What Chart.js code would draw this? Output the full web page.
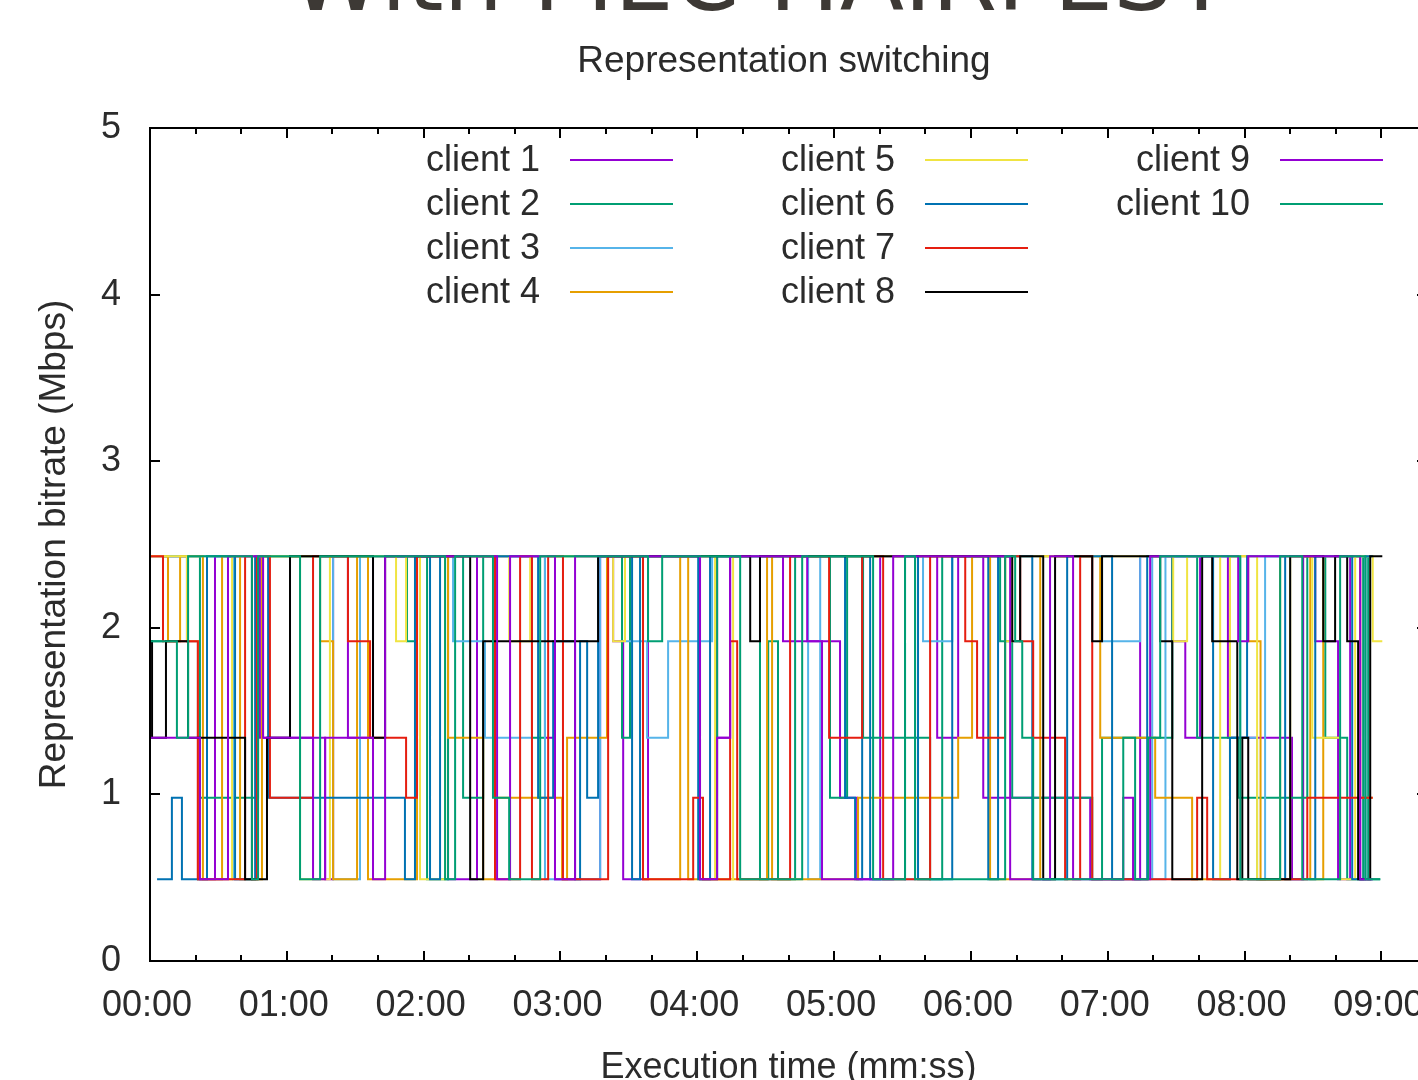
<!DOCTYPE html>
<html lang="en">
  <head>
    <meta charset="utf-8" />
    <title>Representation switching</title>
    <style>
      html, body { margin: 0; padding: 0; background: #fff; overflow: hidden; }
      #box { width: 1480px; height: 1110px; }
    </style>
  </head>
  <body>
    <div id="box"><canvas id="myChart" width="1480" height="1110"></canvas></div>
    <script src="https://cdn.jsdelivr.net/npm/chart.js"></script>
    <script>
      // bitrate steps per client: change time (s) and rate (Mbps) from that time on
      const c1Time = [0, 16.2, 21, 28.5, 48.2, 76.8, 80.3, 86.8, 97.8, 130.7, 143.4, 173.2, 177.6, 197.4, 203.1, 207.5, 218.4, 248.7, 254.4, 277.6, 302.6, 310.1, 320.2, 345.2, 354.4, 365.4, 412.3, 434.2, 448.3, 454, 460.5, 472.7, 500.8, 505.7, 511, 521, 526.3, 530.7, 536.2];
      const c1Rate = [2.43, 1.92, 0.49, 2.43, 1.34, 0.49, 2.43, 1.34, 2.43, 0.49, 2.43, 1.34, 0.49, 2.43, 1.92, 0.49, 2.43, 1.34, 2.43, 1.92, 0.98, 0.49, 2.43, 1.34, 2.43, 0.98, 0.49, 2.43, 1.92, 1.34, 2.43, 1.34, 0.49, 2.43, 1.92, 0.49, 2.43, 0.49, 0.49];

      const c2Time = [0, 5.7, 21.9, 47.4, 112.7, 117.1, 121.5, 130.7, 137.3, 146.1, 167.5, 173.2, 207, 210.5, 241.2, 248.7, 267.5, 271.1, 275.4, 282.9, 298.2, 305.7, 312.7, 342.1, 347.4, 372.8, 378.1, 413.2, 417.5, 448.3, 459.2, 477.2, 507.5, 515.4, 525, 532, 534.2, 539.5];
      const c2Rate = [1.92, 2.43, 0.98, 2.43, 1.92, 2.43, 0.49, 2.43, 0.98, 2.43, 1.34, 2.43, 1.34, 2.43, 0.49, 2.43, 0.49, 1.92, 0.49, 2.43, 0.98, 2.43, 1.34, 0.49, 2.43, 1.92, 0.98, 0.49, 1.34, 2.43, 1.34, 0.98, 2.43, 1.34, 0.49, 2.43, 0.49, 0.49];

      const c3Time = [0, 36.4, 44.7, 80.3, 92.1, 132.9, 146.9, 167.5, 173.2, 197.4, 208.3, 218, 227.2, 246.5, 288.6, 293.9, 331.1, 335.5, 339, 351.8, 417.5, 434.2, 439.5, 445.3, 478.1, 485.5, 489, 536.2];
      const c3Rate = [2.43, 0.49, 2.43, 0.49, 2.43, 1.92, 1.34, 2.43, 0.49, 2.43, 1.92, 1.34, 1.92, 2.43, 0.49, 2.43, 0.49, 2.43, 1.92, 2.43, 1.92, 2.43, 0.49, 2.43, 1.34, 0.49, 2.43, 2.43];

      const c4Time = [0, 7.9, 13.2, 23.2, 31.6, 39.5, 49.1, 74.6, 80.3, 90.8, 95.6, 117.1, 130.7, 146.1, 151.3, 180.7, 182.9, 200.4, 216.2, 232.5, 236, 270.6, 272.8, 310.5, 354.4, 360.5, 368.4, 390.4, 416.7, 440.8, 457, 473.6, 481.6, 487, 495.6, 508.8, 514.5, 530.7, 536.2];
      const c4Rate = [2.43, 1.92, 2.43, 0.49, 2.43, 0.49, 2.43, 1.92, 0.49, 2.43, 0.49, 2.43, 1.34, 0.49, 0.98, 0.49, 1.34, 2.43, 0.49, 2.43, 0.49, 2.43, 0.49, 0.98, 1.34, 2.43, 0.49, 2.43, 1.34, 0.98, 0.49, 2.43, 1.92, 0.49, 2.43, 0.49, 2.43, 0.98, 0.98];

      const c5Time = [0, 16.2, 21, 36, 65.8, 78.9, 107.9, 112.3, 118.4, 129.4, 157.5, 166.7, 203.1, 208.3, 247.8, 255.7, 375, 378.1, 448.7, 454.8, 469.3, 473.6, 485.5, 500, 509.7, 521.9, 528.5, 536.2, 540.4];
      const c5Rate = [2.43, 1.92, 0.49, 2.43, 0.49, 2.43, 1.92, 2.43, 0.49, 2.43, 1.92, 2.43, 1.92, 2.43, 0.49, 2.43, 1.92, 2.43, 1.92, 2.43, 0.49, 2.43, 0.49, 2.43, 1.34, 0.49, 2.43, 1.92, 1.92];

      const c6Time = [3.1, 9.6, 14, 25, 37.3, 46.1, 51.8, 111.8, 116.2, 122.8, 127.2, 170.2, 176.8, 186.4, 188.6, 191.7, 196.5, 211.4, 214.9, 240.4, 245.6, 304.8, 309.2, 312.3, 315.8, 331.1, 336.8, 351.8, 367.6, 371.9, 386.9, 402.2, 421.9, 437.3, 466.2, 473.6, 481.1, 497.8, 511, 527.2, 533, 536.2];
      const c6Rate = [0.49, 0.98, 0.49, 2.43, 0.49, 2.43, 0.98, 0.49, 2.43, 0.49, 2.43, 0.98, 1.92, 0.49, 1.92, 0.98, 2.43, 0.49, 2.43, 0.49, 2.43, 0.98, 0.49, 2.43, 0.49, 2.43, 0.49, 2.43, 0.49, 2.43, 0.49, 2.43, 0.49, 2.43, 0.49, 1.34, 2.43, 0.49, 2.43, 0.49, 2.43, 2.43];

      const c7Time = [0, 5.7, 21, 41.7, 44.7, 46.9, 52.6, 71.5, 86.8, 96.5, 112.3, 117.1, 151.3, 162.3, 167.5, 174.6, 181.1, 200.9, 216.2, 238.2, 242.5, 254.4, 257.5, 280.7, 297.8, 312.3, 321.5, 342.1, 357.5, 362.7, 375, 381.6, 387.3, 401.3, 407.9, 413.2, 459.2, 463.6, 507.5, 536.2];
      const c7Rate = [2.43, 1.92, 0.49, 2.43, 0.49, 2.43, 0.98, 2.43, 1.92, 1.34, 0.98, 2.43, 0.49, 2.43, 0.49, 2.43, 0.49, 2.43, 0.49, 0.98, 0.49, 1.92, 0.49, 2.43, 1.34, 2.43, 0.49, 2.43, 1.92, 1.34, 2.43, 1.92, 1.34, 0.49, 2.43, 0.49, 0.98, 0.49, 0.98, 0.98];

      const c8Time = [0, 0.9, 7, 16.7, 41.7, 51.3, 61.4, 97.8, 103.1, 140.4, 146.1, 196.5, 263.2, 267.5, 378.1, 381.6, 391.7, 396.9, 413.2, 417.5, 443, 448.3, 461.4, 465.8, 476.8, 479, 481.6, 500, 514.5, 519.7, 525, 529.8, 535.1, 540.4];
      const c8Rate = [1.92, 1.34, 1.92, 1.34, 0.49, 1.34, 2.43, 1.34, 2.43, 0.49, 1.92, 2.43, 1.92, 2.43, 1.92, 2.43, 0.49, 2.43, 1.92, 2.43, 1.92, 0.49, 2.43, 1.92, 0.49, 1.34, 0.49, 2.43, 1.92, 2.43, 1.92, 0.49, 2.43, 2.43];

      const c9Time = [0, 21.9, 34.2, 49.6, 71.5, 76.8, 97.8, 103.1, 152.2, 157.9, 177.6, 186.4, 241.2, 248.7, 254.4, 288.2, 294.7, 325.9, 377.2, 394.7, 404.8, 426.8, 431.1, 438.6, 477.2, 481.6, 530.7, 536.2];
      const c9Rate = [1.34, 0.49, 2.43, 1.34, 0.49, 1.34, 0.49, 2.43, 0.49, 2.43, 0.49, 2.43, 0.49, 1.34, 2.43, 1.92, 0.49, 2.43, 0.49, 2.43, 0.49, 0.98, 0.49, 2.43, 1.92, 2.43, 0.49, 0.49];

      const c10Time = [0, 11.8, 16.7, 44.7, 47.4, 65.8, 74.6, 129.4, 133.8, 150.4, 157.5, 171.1, 218.4, 224.6, 258.8, 286, 317.1, 331.1, 335.5, 375, 379.4, 382.5, 387.3, 426.8, 432, 437.7, 443, 478.1, 495.6, 505.3, 521.9, 533, 539.5];
      const c10Rate = [1.92, 1.34, 2.43, 0.49, 2.43, 0.49, 2.43, 0.49, 2.43, 0.98, 0.49, 2.43, 1.92, 2.43, 0.49, 2.43, 0.49, 2.43, 0.49, 2.43, 1.92, 1.34, 0.49, 1.34, 0.49, 1.34, 2.43, 0.49, 2.43, 0.49, 2.43, 0.49, 0.49];

      const clientNames = ["client 1", "client 2", "client 3", "client 4", "client 5", "client 6", "client 7", "client 8", "client 9", "client 10"];
      const clientColors = ["#9400d3", "#009e73", "#56b4e9", "#e69f00", "#f0e442", "#0072b2", "#e51e10", "#000000", "#9400d3", "#009e73"];
      const clientTimes = [c1Time, c2Time, c3Time, c4Time, c5Time, c6Time, c7Time, c8Time, c9Time, c10Time];
      const clientRates = [c1Rate, c2Rate, c3Rate, c4Rate, c5Rate, c6Rate, c7Rate, c8Rate, c9Rate, c10Rate];

      const xMax = 560;
      const textFont = '"Liberation Sans", Arial, sans-serif';
      const textColor = "#2b2b2b";

      function mmss(v) {
        const m = Math.floor(v / 60);
        const s = v % 60;
        return String(m).padStart(2, "0") + ":" + String(s).padStart(2, "0");
      }

      const datasets = clientNames.map((name, i) => ({
        label: name,
        data: clientTimes[i].map((t, k) => ({ x: t, y: clientRates[i][k] })),
        borderColor: clientColors[i],
        backgroundColor: clientColors[i],
        borderWidth: 2,
        stepped: true,
        pointRadius: 0,
        fill: false,
        order: clientNames.length - i,
      }));

      const framePlugin = {
        id: "frame",
        afterDatasetsDraw(chart) {
          const { ctx, chartArea: a, scales } = chart;
          ctx.save();
          ctx.strokeStyle = "#000";
          ctx.lineWidth = 2;
          ctx.strokeRect(a.left, a.top, a.right - a.left, a.bottom - a.top);
          ctx.beginPath();
          scales.x.ticks.forEach((t) => {
            const px = Math.round(scales.x.getPixelForValue(t.value));
            const len = t.value % 60 === 0 ? 10 : 6;
            ctx.moveTo(px, a.bottom);
            ctx.lineTo(px, a.bottom - len);
            ctx.moveTo(px, a.top);
            ctx.lineTo(px, a.top + len);
          });
          scales.y.ticks.forEach((t) => {
            const py = Math.round(scales.y.getPixelForValue(t.value));
            ctx.moveTo(a.left, py);
            ctx.lineTo(a.left + 10, py);
            ctx.moveTo(a.right, py);
            ctx.lineTo(a.right - 10, py);
          });
          ctx.stroke();
          ctx.restore();
        },
        afterDraw(chart) {
          const ctx = chart.ctx;
          ctx.save();
          // slide heading, mostly above the picture
          ctx.fillStyle = "#3d3935";
          ctx.font = '94px "DejaVu Sans", sans-serif';
          ctx.textAlign = "center";
          ctx.textBaseline = "alphabetic";
          ctx.fillText("With MEC HAIRPEST", 760, 10);

          ctx.fillStyle = textColor;
          ctx.font = "37px " + textFont;
          ctx.fillText("Representation switching", 784, 72);

          // gnuplot style key, 3 columns of 4 rows
          ctx.font = "36px " + textFont;
          ctx.textBaseline = "middle";
          ctx.textAlign = "right";
          chart.data.datasets.forEach((ds, i) => {
            const col = Math.floor(i / 4);
            const row = i % 4;
            const tx = 540 + col * 355;
            const ty = 160 + row * 44;
            ctx.fillStyle = textColor;
            ctx.fillText(ds.label, tx, ty + 1);
            ctx.strokeStyle = ds.borderColor;
            ctx.lineWidth = 2;
            ctx.beginPath();
            ctx.moveTo(tx + 30, ty);
            ctx.lineTo(tx + 133, ty);
            ctx.stroke();
          });
          ctx.restore();
        },
      };

      const ctx = document.getElementById("myChart");

      new Chart(ctx, {
        type: "line",
        data: { datasets },
        options: {
          responsive: false,
          animation: false,
          layout: { padding: { top: 128, right: 53, bottom: 0, left: 0 } },
          elements: { line: { tension: 0, borderJoinStyle: "miter" } },
          plugins: {
            legend: { display: false },
            title: { display: false },
            tooltip: { enabled: false },
          },
          scales: {
            x: {
              type: "linear",
              min: 0,
              max: xMax,
              border: { display: false },
              grid: { display: false, drawTicks: false },
              ticks: {
                stepSize: 20,
                autoSkip: false,
                maxRotation: 0,
                padding: 23,
                labelOffset: -3,
                color: textColor,
                font: { family: textFont, size: 36 },
                callback: (v) => (v % 60 === 0 ? mmss(v) : ""),
              },
              title: {
                display: true,
                text: "Execution time (mm:ss)",
                color: textColor,
                font: { family: textFont, size: 36 },
                padding: { top: 0, bottom: 20 },
              },
              afterFit: (s) => {
                s.height = 149;
              },
            },
            y: {
              min: 0,
              max: 5,
              border: { display: false },
              grid: { display: false, drawTicks: false },
              ticks: {
                stepSize: 1,
                padding: 29,
                color: textColor,
                font: { family: textFont, size: 36 },
              },
              title: {
                display: true,
                text: "Representation bitrate (Mbps)",
                color: textColor,
                font: { family: textFont, size: 37 },
                padding: { top: 33, bottom: 0 },
              },
              afterFit: (s) => {
                s.width = 150;
              },
            },
          },
        },
        plugins: [framePlugin],
      });
    </script>
  </body>
</html>
